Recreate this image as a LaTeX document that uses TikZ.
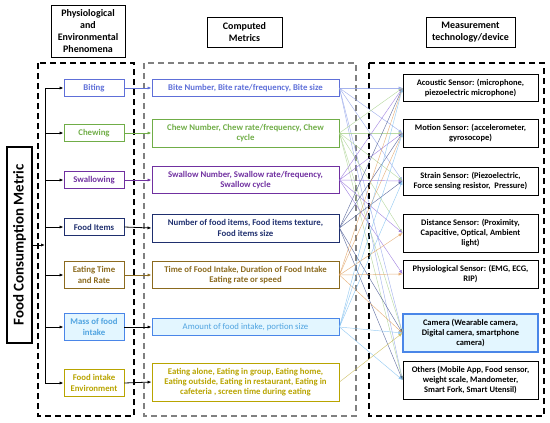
\documentclass[tikz,border=0pt]{standalone}
\usepackage{fontspec}
\setmainfont{Carlito}
\usetikzlibrary{arrows.meta}
\definecolor{cbite}{HTML}{5E6FD8}
\definecolor{cchew}{HTML}{70AD47}
\definecolor{cswal}{HTML}{7030A0}
\definecolor{cfood}{HTML}{1F2F6E}
\definecolor{ctime}{HTML}{8B6A1E}
\definecolor{cmass}{HTML}{4FA3E0}
\definecolor{cmassb}{HTML}{4A86E8}
\definecolor{cmassf}{HTML}{E3F6FF}
\definecolor{cenv}{HTML}{B8A400}
\definecolor{ltime}{HTML}{E0A060}
\definecolor{lbite}{HTML}{8EA0E8}
\definecolor{lchew}{HTML}{A9D18E}
\definecolor{lswal}{HTML}{9370DB}
\definecolor{lfood}{HTML}{44548F}
\definecolor{lmass}{HTML}{7FBFEF}
\definecolor{lenv}{HTML}{C8B850}
\begin{document}
\begin{tikzpicture}[x=1bp,y=-1bp,
  box/.style={draw, line width=0.9bp, align=center, inner sep=1bp,
    font=\fontsize{8.8}{10.2}\selectfont\bfseries},
  hdr/.style={draw, line width=1bp, align=center, inner sep=2bp,
    font=\fontsize{10}{12}\selectfont\bfseries},
  lbox/.style={box, minimum width=60bp},
  mbox/.style={box, minimum width=187bp},
  rbox/.style={box, minimum width=135bp, draw=black, text=black,
    font=\fontsize{8.5}{10}\selectfont\bfseries},
  conn/.style={line width=0.45bp, opacity=0.8, -{Latex[length=4bp,width=3.2bp]}},
  feed/.style={line width=0.8bp, -{Latex[length=4bp,width=3.2bp]}},
  dbox/.style={line width=1.1bp, dash pattern=on 6bp off 4bp}
]
\useasboundingbox (0,0) rectangle (550,422);
% headers
\node[hdr, minimum width=74bp, minimum height=52bp] (h1) at (88,31) {Physiological\\and\\Environmental\\Phenomena};
\node[hdr, minimum width=75bp, minimum height=30bp] (h2) at (244.5,32) {Computed\\Metrics};
\node[hdr, minimum width=89bp, minimum height=30bp] (h3) at (470.5,32) {Measurement\\technology/device};
% dashed groups
\draw[dbox] (38,63) rectangle (134,416);
\draw[dbox, gray] (144,63) rectangle (356,416);
\draw[dbox, line width=1.3bp] (369,63) rectangle (544,416);
% main node
\node[draw, line width=1.2bp, minimum width=196bp, minimum height=25bp, rotate=90,
  font=\fontsize{15}{17}\selectfont\bfseries, inner sep=1bp] (fc) at (19.5,245) {Food Consumption Metric};
% left column
\node[lbox, minimum height=17bp, draw=cbite, text=cbite] (p1) at (94,88) {Biting};
\node[lbox, minimum height=17bp, draw=cchew, text=cchew] (p2) at (94,133) {Chewing};
\node[lbox, minimum height=17bp, draw=cswal, text=cswal] (p3) at (94,180) {Swallowing};
\node[lbox, minimum height=17bp, draw=cfood, text=cfood] (p4) at (94,227) {Food Items};
\node[lbox, minimum height=27bp, draw=ctime, text=ctime] (p5) at (94,275) {Eating Time\\and Rate};
\node[lbox, minimum height=27bp, draw=cmassb, fill=cmassf, text=cmass] (p6) at (94,327) {Mass of food\\intake};
\node[lbox, minimum height=27bp, draw=cenv, text=cenv] (p7) at (94,383) {Food intake\\Environment};
% trunk
\coordinate (t0) at (45,88);
\coordinate (t1) at (45,384);
\coordinate (tm) at (45,245);
\draw[line width=0.8bp] (t0) -- (t1);
\draw[feed] (fc.south) -- (tm);
\foreach \i in {1,...,7} {\draw[feed] (t0 |- p\i.west) -- (p\i.west);}
% middle column
\node[mbox, minimum height=17bp, draw=cbite, text=cbite] (m1) at (245.5,88) {Bite Number, Bite rate/frequency, Bite size};
\node[mbox, minimum height=28bp, draw=cchew, text=cchew] (m2) at (245.5,133) {Chew Number, Chew rate/frequency, Chew\\cycle};
\node[mbox, minimum height=27bp, draw=cswal, text=cswal] (m3) at (245.5,180) {Swallow Number, Swallow rate/frequency,\\Swallow cycle};
\node[mbox, minimum height=28bp, draw=cfood, text=cfood] (m4) at (245.5,228) {Number of food items, Food items texture,\\Food items size};
\node[mbox, minimum height=27bp, draw=ctime, text=ctime] (m5) at (245.5,275) {Time of Food Intake, Duration of Food Intake\\Eating rate or speed};
\node[mbox, minimum height=17bp, draw=cmassb, fill=cmassf, text=cmass, font=\fontsize{8.8}{10.2}\selectfont] (m6) at (245.5,327) {Amount of food intake, portion size};
\node[mbox, minimum height=38bp, draw=cenv, text=cenv] (m7) at (245.5,382) {Eating alone, Eating in group, Eating home,\\Eating outside, Eating in restaurant, Eating in\\cafeteria , screen time during eating};
% feeds left->middle
\draw[feed, cbite] (p1.east) -- (m1.west);
\draw[feed, cchew] (p2.east) -- (m2.west);
\draw[feed, cswal] (p3.east) -- (m3.west);
\draw[feed, black] (p4.east) -- (m4.west);
\draw[feed, ctime] (p5.east) -- (m5.west);
\draw[feed, black] (p6.east) -- (m6.west);
\draw[feed, black] (p7.east) -- (m7.west);
% right column
\node[rbox, minimum height=27bp] (r1) at (470.5,88) {Acoustic Sensor: (microphone,\\piezoelectric microphone)};
\node[rbox, minimum height=28bp] (r2) at (470.5,133) {Motion Sensor: (accelerometer,\\gyrosocope)};
\node[rbox, minimum height=28bp] (r3) at (470.5,181) {Strain Sensor: (Piezoelectric,\\Force sensing resistor,~ Pressure)};
\node[rbox, minimum height=38bp] (r4) at (470.5,233) {Distance Sensor: (Proximity,\\Capacitive, Optical, Ambient\\light)};
\node[rbox, minimum height=28bp] (r5) at (470.5,274) {Physiological Sensor: (EMG, ECG,\\RIP)};
\node[rbox, minimum height=38bp, draw=cmassb, fill=cmassf, line width=1.1bp] (r6) at (470.5,333) {Camera (Wearable camera,\\Digital camera, smartphone\\camera)};
\node[rbox, minimum height=38bp] (r7) at (470.5,380) {Others (Mobile App, Food sensor,\\weight scale, Mandometer,\\Smart Fork, Smart Utensil)};
% connections
\foreach \r in {r1,r2,r3,r6,r7} {\draw[conn, lbite] (m1.east) -- (\r.west);}
\foreach \r in {r1,r2,r3,r4,r6,r7} {\draw[conn, lchew] (m2.east) -- (\r.west);}
\foreach \r in {r1,r2,r3,r4,r5} {\draw[conn, lswal] (m3.east) -- (\r.west);}
\foreach \r in {r1,r2,r3,r6,r7} {\draw[conn, lfood] (m4.east) -- (\r.west);}
\foreach \r in {r1,r2,r4,r5,r6} {\draw[conn, ltime] (m5.east) -- (\r.west);}
\foreach \r in {r1,r2,r3,r6,r7} {\draw[conn, lmass] (m6.east) -- (\r.west);}
\foreach \r in {r6} {\draw[conn, lenv] (m7.east) -- (\r.west);}
\end{tikzpicture}
\end{document}
